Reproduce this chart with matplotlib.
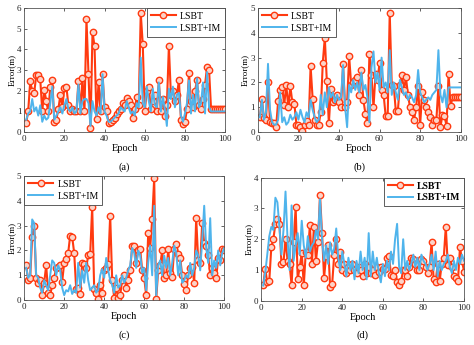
import numpy as np
import matplotlib.pyplot as plt

plt.rcParams['font.family'] = ['Liberation Serif', 'DejaVu Serif']

epoch = np.arange(1, 101)

# (a)
a_lsbt = [0.45, 1.0, 2.45, 2.0, 1.9, 2.75, 2.75, 2.55, 1.0, 2.05,
          1.5, 1.0, 2.2, 2.5, 0.5, 0.6, 1.1, 1.8, 1.2, 2.15,
          2.2, 1.3, 1.0, 1.1, 1.0, 1.0, 2.45, 1.0, 2.6, 1.0,
          5.45, 2.8, 0.2, 4.85, 4.15, 0.65, 2.4, 1.0, 2.8, 1.2,
          1.0, 0.45, 0.5, 0.6, 0.7, 0.9, 1.0, 1.1, 1.4, 1.3,
          1.65, 1.5, 1.3, 0.7, 1.1, 1.7, 1.3, 5.75, 4.25, 1.0,
          2.0, 2.2, 1.1, 1.5, 1.8, 1.0, 2.5, 1.0, 1.6, 0.8,
          1.3, 4.15, 1.8, 2.0, 1.5, 1.8, 2.5, 0.6, 0.4, 0.5,
          1.1, 2.85, 1.5, 1.2, 2.0, 2.5, 1.3, 1.1, 1.6, 2.3,
          3.15, 3.0, 1.1, 1.1, 1.1, 1.1, 1.1, 1.1, 1.1, 1.1]
a_im = [0.6, 0.9, 1.0, 1.6, 1.0, 1.2, 0.8, 1.3, 0.5, 0.8,
        0.6, 0.7, 1.4, 2.2, 0.6, 0.8, 1.0, 1.2, 0.9, 1.3,
        1.6, 1.1, 1.0, 1.2, 0.9, 1.0, 2.3, 0.9, 1.5, 1.6,
        1.6, 1.4, 0.3, 1.5, 1.0, 0.8, 1.2, 0.9, 2.8, 1.0,
        0.8, 0.5, 0.5, 0.6, 0.7, 0.8, 0.9, 1.2, 1.1, 1.0,
        1.5, 1.2, 0.9, 1.0, 0.8, 1.4, 1.2, 3.6, 1.4, 1.2,
        2.2, 1.5, 1.0, 2.1, 1.3, 1.2, 2.4, 1.0, 1.7, 1.1,
        0.3, 2.1, 1.6, 2.2, 1.2, 1.8, 1.9, 0.8, 0.5, 0.9,
        1.4, 2.5, 0.9, 1.8, 1.0, 2.6, 1.2, 1.4, 2.4, 0.9,
        2.9, 1.2, 1.0, 1.0, 1.0, 1.0, 1.0, 1.0, 1.0, 1.0]

# (b)
b_lsbt = [0.6, 1.35, 0.55, 0.5, 2.0, 0.4, 0.35, 0.35, 0.2, 1.25,
          1.7, 1.8, 1.1, 1.9, 1.0, 1.85, 1.2, 1.15, 0.3, 0.3,
          0.2, 0.05, 0.3, 0.45, 0.3, 2.65, 1.35, 0.5, 0.3, 0.3,
          0.8, 2.8, 3.8, 2.05, 0.35, 1.75, 1.2, 1.3, 1.5, 1.2,
          1.0, 2.75, 1.0, 1.2, 3.05, 1.9, 2.0, 2.1, 2.2, 1.5,
          2.5, 1.3, 0.75, 0.35, 3.15, 2.3, 1.0, 2.35, 2.1, 2.8,
          1.7, 1.5, 0.65, 0.65, 4.8, 1.9, 1.85, 0.85, 0.85, 1.9,
          2.3, 1.7, 2.2, 1.5, 1.0, 0.8, 0.5, 1.0, 1.85, 0.3,
          1.6, 1.3, 1.0, 0.8, 0.6, 0.3, 0.5, 0.5, 1.85, 0.2,
          0.7, 0.65, 0.25, 2.35, 1.05, 1.4, 1.4, 1.4, 1.4, 1.4]
b_im = [0.6, 1.3, 0.5, 0.8, 2.75, 0.9, 0.4, 0.3, 0.3, 0.5,
        1.6, 0.4, 0.6, 0.3, 0.4, 0.7, 0.5, 0.6, 0.8, 0.5,
        0.9, 0.6, 0.4, 0.8, 0.6, 1.3, 0.9, 0.6, 0.4, 0.5,
        1.5, 0.7, 1.6, 1.0, 1.8, 1.4, 1.6, 1.2, 1.5, 1.3,
        1.4, 2.7, 1.0, 0.2, 1.9, 1.6, 2.1, 1.7, 2.0, 1.6,
        2.4, 1.7, 1.9, 1.4, 0.4, 2.6, 3.25, 2.0, 2.4, 1.7,
        3.0, 1.8, 2.0, 1.6, 3.3, 1.5, 2.0, 1.6, 1.3, 2.1,
        1.8, 1.5, 1.6, 1.3, 1.5, 1.4, 1.2, 1.5, 2.5, 1.6,
        1.4, 1.2, 1.3, 1.4, 1.3, 1.5, 1.6, 1.7, 3.3, 1.5,
        1.2, 1.7, 1.0, 1.8, 1.8, 1.8, 1.8, 1.8, 1.8, 1.8]

# (c)
c_lsbt = [1.4, 0.8, 0.9, 2.55, 3.0, 0.9, 0.7, 0.8, 0.2, 0.7,
          1.4, 0.3, 0.2, 0.6, 0.9, 1.3, 1.35, 1.4, 0.75, 1.5,
          1.65, 1.9, 2.6, 2.55, 1.9, 0.45, 0.5, 0.25, 1.5, 1.45,
          1.3, 1.8, 1.85, 3.75, 0.45, 0.3, 0.05, 0.6, 0.3, 1.2,
          1.3, 1.45, 3.4, 0.8, 0.1, 0.5, 0.1, 0.2, 0.8, 1.0,
          0.5, 0.8, 1.2, 2.2, 2.2, 1.5, 2.0, 2.05, 1.2, 0.9,
          0.2, 2.7, 2.1, 3.25, 4.9, 0.05, 1.2, 1.4, 2.0, 0.9,
          1.0, 2.05, 1.1, 0.95, 2.05, 2.25, 1.85, 1.7, 1.0, 0.65,
          0.4, 1.0, 1.3, 1.35, 0.7, 3.3, 1.6, 1.5, 3.1, 2.3,
          2.2, 1.8, 1.0, 1.3, 1.1, 0.9, 1.7, 1.6, 2.05, 2.0]
c_im = [1.3, 0.9, 1.0, 3.25, 3.1, 1.0, 0.9, 0.5, 0.3, 0.8,
        0.6, 0.4, 1.0, 1.6, 1.5, 1.0, 1.4, 1.2, 0.5, 0.2,
        0.4, 0.35, 0.6, 0.25, 0.4, 0.3, 1.5, 0.5, 1.2, 0.7,
        1.5, 0.8, 0.4, 0.5, 0.6, 0.3, 0.4, 1.0, 1.25, 0.9,
        1.7, 1.2, 0.8, 0.6, 0.3, 1.0, 0.5, 0.6, 1.0, 0.7,
        0.9, 1.2, 1.4, 2.1, 1.9, 1.3, 2.0, 1.8, 1.1, 1.3,
        0.4, 1.5, 2.2, 1.0, 3.8, 0.2, 1.4, 1.6, 1.0, 1.8,
        1.3, 1.7, 1.0, 1.5, 2.2, 1.9, 1.0, 1.6, 0.7, 0.8,
        1.0, 0.9, 1.5, 1.0, 1.3, 2.0, 1.8, 1.2, 2.4, 3.8,
        2.1, 1.5, 3.3, 1.0, 1.6, 1.3, 2.0, 1.4, 1.9, 2.1]

# (d)
d_lsbt = [0.5, 1.05, 0.6, 0.65, 1.75, 2.0, 2.5, 2.65, 2.5, 1.2,
          1.25, 2.0, 1.3, 1.2, 0.5, 1.9, 3.05, 0.7, 1.1, 1.55,
          0.5, 1.6, 1.5, 2.45, 1.2, 2.4, 1.3, 1.9, 3.45, 2.2,
          0.75, 1.45, 1.8, 0.45, 0.55, 1.5, 2.0, 1.2, 1.6, 1.0,
          1.2, 0.9, 1.1, 1.0, 1.2, 1.0, 0.9, 1.1, 1.0, 0.8,
          1.2, 0.9, 1.1, 0.9, 1.0, 0.85, 1.1, 0.95, 1.1, 1.05,
          1.05, 1.4, 1.45, 0.85, 0.8, 1.0, 0.6, 0.5, 0.65, 1.0,
          1.0, 0.8, 1.1, 1.4, 1.35, 1.2, 1.0, 1.0, 1.35, 1.3,
          1.1, 0.9, 1.1, 1.9, 0.7, 0.6, 1.2, 0.65, 1.2, 1.4,
          2.4, 1.15, 1.4, 1.1, 0.8, 0.75, 0.65, 1.75, 1.3, 0.95]
d_im = [0.5, 0.9, 1.5, 2.1, 2.4, 2.3, 3.35, 3.2, 2.4, 1.5,
        2.3, 3.55, 2.0, 1.0, 3.1, 1.3, 1.8, 2.2, 1.5, 2.6,
        1.8, 1.4, 2.1, 1.6, 1.8, 1.9, 2.3, 2.0, 3.3, 2.0,
        1.3, 1.8, 1.2, 1.9, 1.5, 1.7, 2.35, 1.4, 1.0, 1.6,
        1.2, 0.8, 1.4, 1.0, 1.3, 0.7, 1.3, 0.9, 1.6, 1.0,
        1.4, 0.7, 2.2, 0.8, 1.6, 1.0, 1.4, 0.9, 0.6, 1.2,
        0.8, 1.3, 1.0, 1.6, 1.2, 2.0, 2.5, 1.1, 0.9, 2.0,
        1.0, 1.3, 1.0, 1.2, 1.5, 1.1, 1.4, 1.0, 1.5, 1.3,
        1.2, 1.0, 1.2, 1.5, 1.0, 1.6, 0.8, 1.3, 1.0, 1.2,
        1.3, 1.5, 1.1, 0.9, 1.3, 1.0, 1.4, 1.2, 1.5, 1.3]

red = '#ff3a10'
blue = '#4fb4ec'

panels = [
    # rect, series, ymax, legend loc, tag, bold legend
    ([0.051, 0.617, 0.424, 0.360], a_lsbt, a_im, 6, 'upper right', '(a)', False),
    ([0.544, 0.617, 0.428, 0.360], b_lsbt, b_im, 5, 'upper left', '(b)', False),
    ([0.051, 0.130, 0.422, 0.360], c_lsbt, c_im, 5, 'upper left', '(c)', False),
    ([0.551, 0.128, 0.428, 0.357], d_lsbt, d_im, 4, 'upper right', '(d)', True),
]

fig = plt.figure(figsize=(4.74, 3.45), dpi=100)

for rect, y1, y2, ymax, loc, tag, bold in panels:
    ax = fig.add_axes(rect)
    ax.plot(epoch, y1, color=red, lw=1.5, marker='o', ms=4.6, mew=1.0,
            mfc='#fbd3c8', mec=red, label='LSBT', zorder=2)
    ax.plot(epoch, y2, color=blue, lw=1.4, label='LSBT+IM', zorder=3)
    ax.set_xlim(0, 100)
    ax.set_ylim(0, ymax)
    ax.set_xticks(range(0, 101, 20))
    ax.set_yticks(range(0, ymax + 1))
    ax.tick_params(direction='in', top=True, right=True, length=2,
                   width=0.5, labelsize=6.5, pad=2, colors='#222222')
    for s in ax.spines.values():
        s.set_linewidth(0.6)
        s.set_color('#555555')
    ax.set_xlabel('Epoch', fontsize=7.5, labelpad=1)
    ax.set_ylabel('Error(m)', fontsize=6.5, labelpad=1)
    ax.text(0.5, -0.28, tag, transform=ax.transAxes, ha='center', va='center',
            fontsize=7.5)
    leg = ax.legend(loc=loc, borderaxespad=0, handlelength=2.6,
                    handletextpad=0.4, borderpad=0.4, labelspacing=0.3,
                    fancybox=False, framealpha=1,
                    prop={'size': 7, 'weight': 'bold' if bold else 'normal'})
    leg.get_frame().set_edgecolor('#444444')
    leg.get_frame().set_linewidth(0.6)

fig.savefig('out.png', dpi=100)
